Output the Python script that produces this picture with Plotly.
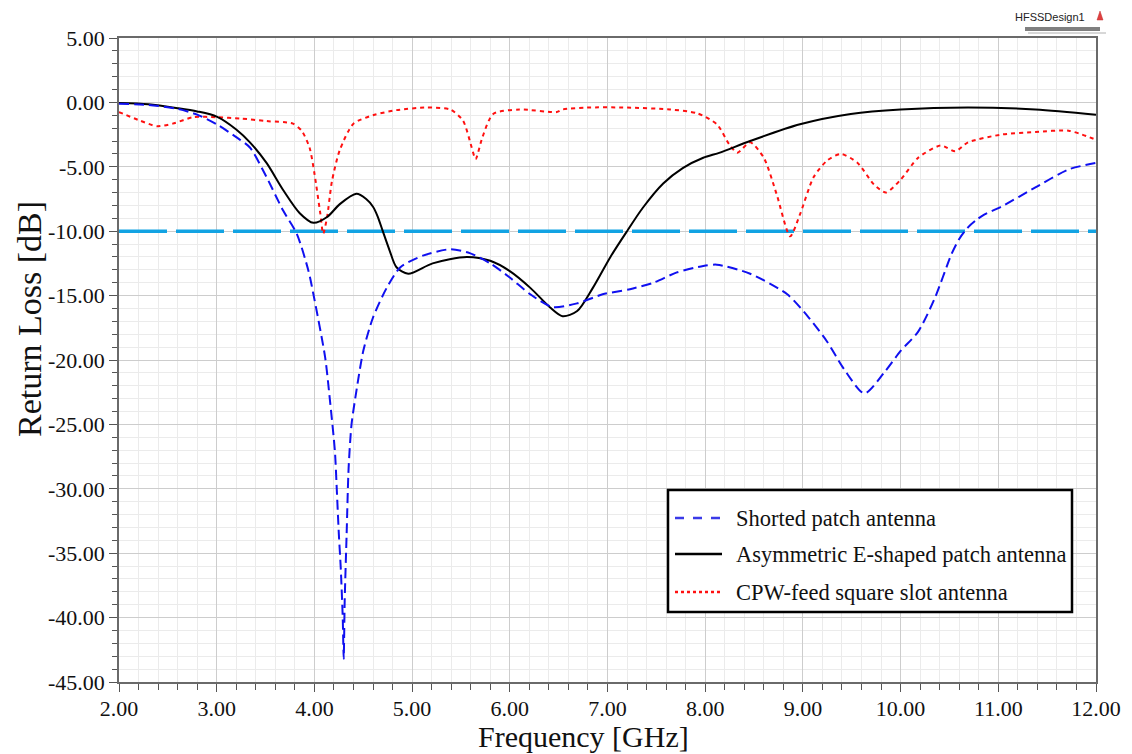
import plotly.graph_objects as go

# Return-loss curves (frequency in GHz, S11 in dB)
shorted_freq = [2.0, 2.3, 2.6, 2.8, 3.0, 3.2, 3.34, 3.51, 3.68, 3.82, 3.94, 3.99, 4.11,
                4.16, 4.21, 4.23, 4.25, 4.27, 4.29, 4.30, 4.31, 4.33, 4.35, 4.38, 4.43,
                4.50, 4.60, 4.74, 4.88, 5.11, 5.39, 5.59, 5.80, 6.0, 6.21, 6.44, 6.69,
                6.95, 7.23, 7.47, 7.71, 7.98, 8.12, 8.46, 8.84, 9.07, 9.25, 9.42, 9.63,
                9.83, 10.0, 10.18, 10.35, 10.52, 10.6, 10.69, 10.78, 10.86, 11.03, 11.38,
                11.72, 12.0]
shorted_db = [-0.1, -0.2, -0.5, -0.95, -1.7, -2.7, -3.5, -5.8, -8.4, -10.2, -13.1, -14.9,
              -19.8, -23.2, -27.1, -30.2, -33.5, -36.2, -40.0, -43.2, -38.7, -33.5, -28.4,
              -25.0, -22.4, -19.3, -16.7, -14.4, -12.8, -11.9, -11.4, -11.7, -12.5, -13.6,
              -14.9, -15.9, -15.6, -14.9, -14.5, -14.0, -13.2, -12.7, -12.6, -13.3, -14.9,
              -16.8, -18.6, -20.7, -22.6, -21.0, -19.3, -17.8, -15.2, -11.8, -10.6, -9.7,
              -9.1, -8.7, -8.1, -6.6, -5.2, -4.7]

eshape_freq = [2.0, 2.3, 2.6, 2.8, 3.0, 3.2, 3.34, 3.51, 3.68, 3.85, 3.99, 4.13, 4.26,
               4.43, 4.53, 4.60, 4.65, 4.70, 4.77, 4.84, 4.96, 5.21, 5.56, 5.80, 6.0,
               6.21, 6.41, 6.54, 6.69, 6.85, 7.03, 7.2, 7.36, 7.57, 7.77, 7.98, 8.15,
               8.46, 8.97, 9.49, 10.0, 10.69, 11.38, 12.0]
eshape_db = [-0.05, -0.15, -0.45, -0.7, -1.1, -2.1, -3.1, -4.7, -6.8, -8.6, -9.35, -8.9,
             -7.9, -7.1, -7.5, -8.1, -8.9, -10.0, -11.5, -12.8, -13.3, -12.5, -12.0,
             -12.3, -13.1, -14.4, -15.9, -16.6, -16.2, -14.4, -12.0, -10.0, -8.2, -6.3,
             -5.1, -4.3, -3.9, -3.0, -1.7, -0.9, -0.55, -0.4, -0.55, -0.95]

cpw_freq = [2.0, 2.21, 2.39, 2.55, 2.76, 3.0, 3.24, 3.51, 3.78, 3.87, 3.95, 4.0, 4.06,
            4.09, 4.13, 4.18, 4.26, 4.40, 4.6, 4.84, 5.15, 5.39, 5.52, 5.61, 5.65, 5.72,
            5.83, 6.1, 6.48, 6.54, 6.79, 7.2, 7.64, 7.92, 8.12, 8.25, 8.33, 8.46, 8.6,
            8.73, 8.87, 8.97, 9.11, 9.25, 9.39, 9.56, 9.73, 9.85, 10.0, 10.18, 10.41,
            10.56, 10.69, 11.03, 11.38, 11.72, 12.0]
cpw_db = [-0.75, -1.4, -1.85, -1.65, -1.15, -1.15, -1.25, -1.45, -1.65, -2.2, -3.5, -5.5,
          -8.6, -10.2, -8.9, -6.1, -3.7, -1.65, -1.0, -0.6, -0.4, -0.55, -1.4, -3.5, -4.4,
          -2.7, -0.9, -0.55, -0.75, -0.55, -0.4, -0.4, -0.55, -0.85, -1.7, -3.3, -3.9,
          -3.1, -4.3, -7.1, -10.4, -8.7, -5.8, -4.5, -4.0, -4.7, -6.4, -7.0, -6.0, -4.3,
          -3.35, -3.8, -3.1, -2.5, -2.3, -2.2, -2.9]

threshold_freq = [2.0, 12.0]
threshold_db = [-10.0, -10.0]

legend_labels = ["Shorted patch antenna",
                 "Asymmetric E-shaped patch antenna",
                 "CPW-feed square slot antenna"]

x_ticks = [2, 3, 4, 5, 6, 7, 8, 9, 10, 11, 12]
y_ticks = [5, 0, -5, -10, -15, -20, -25, -30, -35, -40, -45]

W, H = 1132, 754
L, R, T, B = 119, 36, 38, 72
PW, PH = W - L - R, H - T - B

BLUE = "#1010f0"
BLACK = "#000000"
RED = "#ff1010"
CYAN = "#12a3e3"
SERIF = "Liberation Serif, Times New Roman, serif"


def px(x):
    return (x - L) / PW


def py(y):
    return (H - B - y) / PH


fig = go.Figure()
fig.add_trace(go.Scatter(x=threshold_freq, y=threshold_db, mode="lines",
                         line=dict(color=CYAN, width=3.5, dash="48px,9px"),
                         hoverinfo="skip"))
fig.add_trace(go.Scatter(x=cpw_freq, y=cpw_db, mode="lines", name=legend_labels[2],
                         line=dict(color=RED, width=2, dash="4px,4px",
                                   shape="spline", smoothing=0.7)))
fig.add_trace(go.Scatter(x=eshape_freq, y=eshape_db, mode="lines", name=legend_labels[1],
                         line=dict(color=BLACK, width=2, shape="spline", smoothing=0.8)))
fig.add_trace(go.Scatter(x=shorted_freq, y=shorted_db, mode="lines", name=legend_labels[0],
                         line=dict(color=BLUE, width=2, dash="10px,5px",
                                   shape="spline", smoothing=0.7)))

axis_common = dict(
    showline=True, linecolor="#6a6a6a", linewidth=1.5, mirror=True,
    showgrid=True, gridcolor="#cdcdcd", gridwidth=1,
    ticks="outside", ticklen=8, tickcolor="#555555", tickwidth=1,
    tickfont=dict(family=SERIF, size=22, color="#111111"),
    zeroline=False, automargin=False,
)

fig.update_xaxes(
    range=[2, 12], tickvals=x_ticks, ticktext=[f"{v:.2f}" for v in x_ticks],
    minor=dict(dtick=0.2, showgrid=True, gridcolor="#ebebeb", ticks="outside",
               ticklen=6, tickcolor="#555555"),
    ticklabelstandoff=-2,
    **axis_common,
)
fig.update_yaxes(
    range=[-45, 5], tickvals=y_ticks, ticktext=[f"{v:.2f}" for v in y_ticks],
    minor=dict(dtick=1, showgrid=True, gridcolor="#ebebeb", ticks="outside",
               ticklen=5, tickcolor="#555555"),
    **axis_common,
)

shapes = []
annotations = []

# Axis titles
annotations.append(dict(x=px(583), y=py(754), xref="paper", yref="paper",
                        text="Frequency [GHz]", showarrow=False,
                        xanchor="center", yanchor="bottom", borderpad=0,
                        font=dict(family=SERIF, size=30, color="#111111")))
annotations.append(dict(x=px(29), y=py(319), xref="paper", yref="paper",
                        text="Return Loss [dB]", showarrow=False, textangle=-90,
                        xanchor="center", yanchor="middle",
                        font=dict(family=SERIF, size=34, color="#111111")))

# Legend box
lx0, lx1, ly0, ly1 = 668, 1072, 490, 612
shapes.append(dict(type="rect", xref="paper", yref="paper",
                   x0=px(lx0), x1=px(lx1), y0=py(ly1), y1=py(ly0),
                   line=dict(color="#000000", width=2.5), fillcolor="white", layer="above"))
rows = [518, 554, 592]
styles = [dict(color="#3a3ae8", width=2.5, dash="dash"),
          dict(color=BLACK, width=2.5),
          dict(color=RED, width=2.5, dash="dot")]
for yrow, sty, lab in zip(rows, styles, legend_labels):
    shapes.append(dict(type="line", xref="paper", yref="paper",
                       x0=px(675), x1=px(722), y0=py(yrow), y1=py(yrow),
                       line=sty, layer="above"))
    annotations.append(dict(x=px(734), y=py(yrow), xref="paper", yref="paper",
                            text=lab, showarrow=False, xanchor="left", yanchor="middle",
                            font=dict(family=SERIF, size=22.5, color="#111111")))

# Design name tag at top right
annotations.append(dict(x=px(1013), y=py(17), xref="paper", yref="paper",
                        text="HFSSDesign1", showarrow=False, xanchor="left",
                        yanchor="middle",
                        font=dict(family="Liberation Sans, Arial, sans-serif", size=11,
                                  color="#222222")))
shapes.append(dict(type="line", xref="paper", yref="paper", x0=px(1025), x1=px(1100),
                   y0=py(28), y1=py(28), line=dict(color="#000000", width=1)))
shapes.append(dict(type="line", xref="paper", yref="paper", x0=px(1025), x1=px(1100),
                   y0=py(30), y1=py(30), line=dict(color="#000000", width=1)))
shapes.append(dict(type="line", xref="paper", yref="paper", x0=px(1028), x1=px(1106),
                   y0=py(33), y1=py(33), line=dict(color="#b0b0b0", width=1)))
shapes.append(dict(type="path", xref="paper", yref="paper",
                   path=f"M {px(1097)},{py(20)} L {px(1103)},{py(20)} L {px(1100)},{py(11)} Z",
                   fillcolor="#e04040", line=dict(color="#c03030", width=0.5)))

fig.update_layout(
    width=W, height=H,
    margin=dict(l=L, r=R, t=T, b=B, autoexpand=False),
    paper_bgcolor="white", plot_bgcolor="white",
    showlegend=False,
    shapes=shapes, annotations=annotations,
)

fig.write_html("out.html")
